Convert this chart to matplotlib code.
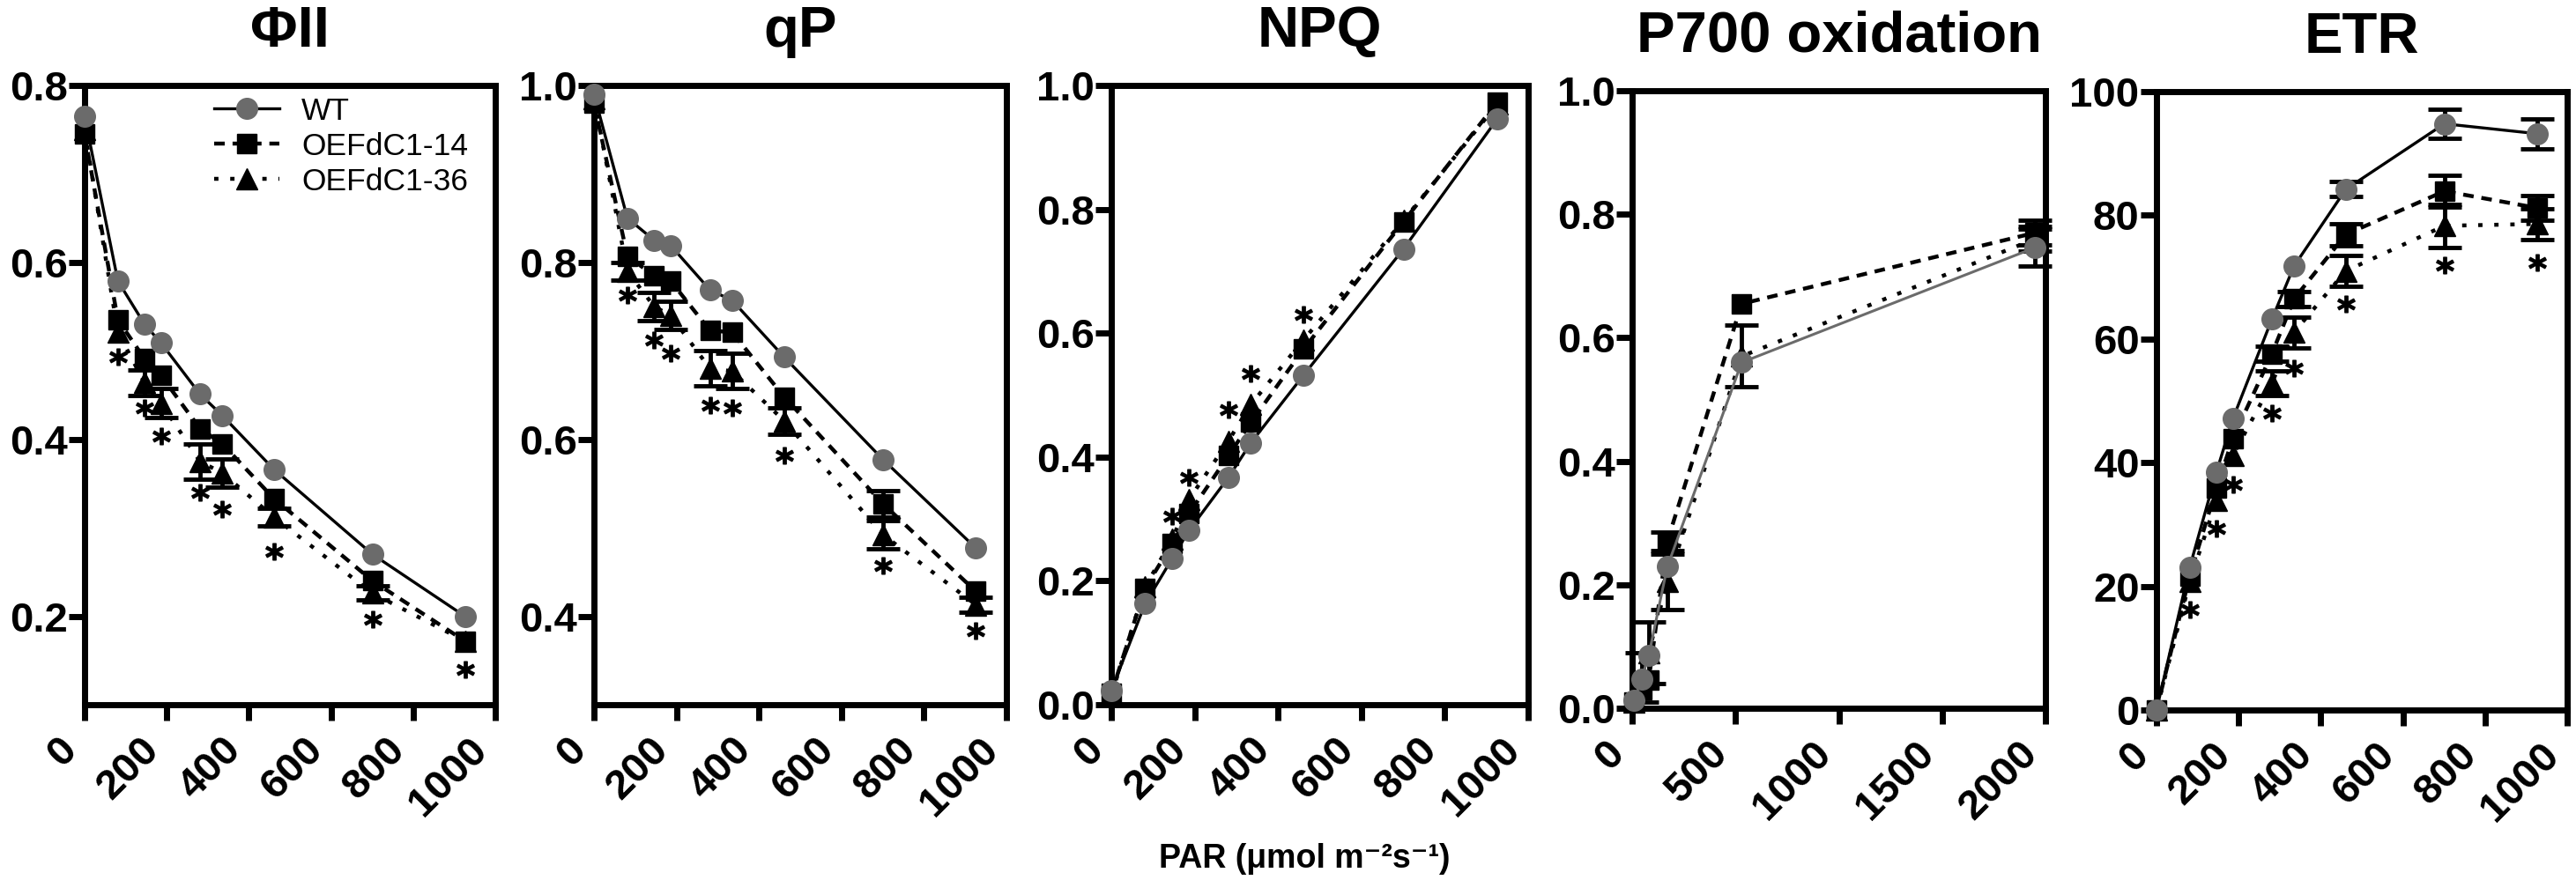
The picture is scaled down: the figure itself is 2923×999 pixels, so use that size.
import numpy as np
import matplotlib
matplotlib.use('Agg')
from matplotlib import pyplot as plt
from matplotlib.lines import Line2D

plt.rcParams['font.family'] = ['Liberation Sans', 'DejaVu Sans']
plt.rcParams['font.weight'] = 'bold'

nan = np.nan
W, H = 2923, 999

# light steps (umol m-2 s-1)
par = [0, 81, 146, 186, 281, 335, 461, 701, 926]
par_p700 = [10, 45, 80, 170, 530, 1950]

# PhiII
phi_wt = [0.765, 0.579, 0.530, 0.509, 0.451, 0.427, 0.366, 0.270, 0.200]
phi_14 = [0.745, 0.535, 0.491, 0.472, 0.412, 0.395, 0.333, 0.240, 0.172]
phi_36 = [0.750, 0.521, 0.464, 0.441, 0.375, 0.362, 0.312, 0.226, 0.172]
phi_wt_err = [0] * 9
phi_14_err = [0] * 9
phi_36_err = [0, 0, 0.014, 0.016, 0.02, 0.016, 0.01, 0.008, 0]
phi_star = [nan, 0.493, 0.436, 0.404, 0.340, 0.321, 0.273, 0.197, 0.140]

# qP
qp_wt = [0.990, 0.850, 0.825, 0.819, 0.769, 0.757, 0.693, 0.577, 0.477]
qp_14 = [0.980, 0.807, 0.785, 0.779, 0.723, 0.721, 0.648, 0.527, 0.428]
qp_36 = [0.985, 0.790, 0.750, 0.740, 0.680, 0.677, 0.621, 0.492, 0.413]
qp_wt_err = [0] * 9
qp_14_err = [0, 0, 0, 0, 0, 0, 0, 0.015, 0]
qp_36_err = [0, 0.010, 0.016, 0.016, 0.020, 0.020, 0.015, 0.016, 0.008]
qp_star = [nan, 0.763, 0.712, 0.697, 0.639, 0.636, 0.582, 0.457, 0.384]

# NPQ
npq_wt = [0.023, 0.163, 0.236, 0.281, 0.367, 0.423, 0.532, 0.736, 0.946]
npq_14 = [0.018, 0.188, 0.260, 0.308, 0.402, 0.456, 0.574, 0.780, 0.973]
npq_36 = [0.015, 0.190, 0.267, 0.331, 0.426, 0.485, 0.589, 0.782, 0.970]
npq_wt_err = [0] * 9
npq_14_err = [0] * 9
npq_36_err = [0] * 9
npq_star = [nan, nan, 0.304, 0.367, 0.476, 0.535, 0.630, nan, nan]

# P700 oxidation
p700_wt = [0.013, 0.047, 0.085, 0.229, 0.560, 0.746]
p700_14 = [0.010, 0.030, 0.045, 0.270, 0.655, 0.770]
p700_36 = [0.010, 0.050, 0.090, 0.205, 0.570, 0.760]
p700_wt_err = [0, 0, 0, 0, 0, 0.03]
p700_14_err = [0, 0, 0, 0.015, 0, 0.02]
p700_36_err = [0, 0.04, 0.05, 0.045, 0.05, 0.02]

# ETR
etr_wt = [0, 23.1, 38.5, 47.1, 63.2, 71.8, 84.2, 94.8, 93.2]
etr_14 = [0, 21.7, 35.9, 43.9, 57.6, 66.5, 76.9, 83.9, 81.2]
etr_36 = [0, 20.8, 33.9, 41.2, 52.9, 61.1, 71.0, 78.3, 78.6]
etr_wt_err = [0, 0, 0, 0, 0, 0, 1.2, 2.4, 2.4]
etr_14_err = [0, 0, 0, 0, 1.2, 1.2, 1.8, 2.6, 2.0]
etr_36_err = [0, 0, 0, 0, 2.0, 2.5, 2.5, 3.5, 2.5]
etr_star = [nan, 16.3, 29.4, 36.5, 48.0, 55.2, 65.6, 72.0, 72.4]

titles = ['\u03a6II', 'qP', 'NPQ', 'P700 oxidation', 'ETR']
labels = ['WT', 'OEFdC1-14', 'OEFdC1-36']

gray = '#6b6b6b'
styles = [
    dict(color='k', ls='-', lw=2.4, marker='o', ms=17, mfc=gray, mec=gray),
    dict(color='k', ls=(0, (2.7, 2.0)), lw=3.2, marker='s', ms=15.5, mfc='k', mec='k'),
    dict(color='k', ls=(0, (1.1, 3.0)), lw=3.2, marker='^', ms=17, mfc='k', mec='k'),
]

# pixel boxes (left, right, top, bottom)
boxes = [(96, 562, 97, 800), (674, 1142, 97, 800), (1261, 1734, 97, 800),
         (1852, 2321, 103, 804), (2447, 2913, 104, 806)]

panels = [
    (par, [phi_wt, phi_14, phi_36], [phi_wt_err, phi_14_err, phi_36_err], phi_star,
     (0.1, 0.8), [0.2, 0.4, 0.6, 0.8], '%.1f', (0, 1000), range(0, 1001, 200)),
    (par, [qp_wt, qp_14, qp_36], [qp_wt_err, qp_14_err, qp_36_err], qp_star,
     (0.3, 1.0), [0.4, 0.6, 0.8, 1.0], '%.1f', (0, 1000), range(0, 1001, 200)),
    (par, [npq_wt, npq_14, npq_36], [npq_wt_err, npq_14_err, npq_36_err], npq_star,
     (0.0, 1.0), [0.0, 0.2, 0.4, 0.6, 0.8, 1.0], '%.1f', (0, 1000), range(0, 1001, 200)),
    (par_p700, [p700_wt, p700_14, p700_36], [p700_wt_err, p700_14_err, p700_36_err], None,
     (0.0, 1.0), [0.0, 0.2, 0.4, 0.6, 0.8, 1.0], '%.1f', (0, 2000), range(0, 2001, 500)),
    (par, [etr_wt, etr_14, etr_36], [etr_wt_err, etr_14_err, etr_36_err], etr_star,
     (0, 100), [0, 20, 40, 60, 80, 100], '%d', (0, 1000), range(0, 1001, 200)),
]

fig = plt.figure(figsize=(W / 100, H / 100), dpi=100)

for i, (x, ys, errs, star, ylim, yticks, yfmt, xlim, xticks) in enumerate(panels):
    l, r, t, b = boxes[i]
    ax = fig.add_axes([l / W, 1 - b / H, (r - l) / W, (b - t) / H])
    # draw OE36 first, WT last (on top)
    for k in [2, 1, 0]:
        st = dict(styles[k])
        if i == 3 and k == 0:
            st['color'] = gray
            st['lw'] = 2.2
        xa, ya, ea = np.array(x), np.array(ys[k]), np.array(errs[k])
        keep = ea > 0
        if keep.any():
            ax.errorbar(xa[keep], ya[keep], yerr=ea[keep], fmt='none', ecolor='k',
                        elinewidth=3.5, capsize=14, capthick=3.5, zorder=2.5, clip_on=False)
        ax.plot(x, ys[k], zorder=3 + (2 - k), clip_on=False, **st)
    if star is not None:
        ax.plot(x, star, ls='none', marker='$*$', ms=14, color='k', zorder=6, clip_on=False)

    ax.set_xlim(*xlim)
    ax.set_ylim(*ylim)
    ax.set_xticks(list(xticks))
    ax.set_xticklabels([str(v) for v in xticks], rotation=45, ha='right', va='top')
    ax.set_yticks(yticks)
    ax.set_yticklabels([yfmt % v for v in yticks])
    for sp in ax.spines.values():
        sp.set_linewidth(5)
    ax.tick_params(axis='both', direction='out', length=13, width=5, labelsize=34)
    ax.tick_params(axis='y', pad=1)
    ax.tick_params(axis='x', pad=8)
    ax.set_title(titles[i], fontsize=47, fontweight='bold', pad=32)

    if i == 0:
        handles = [Line2D([], [], **styles[k]) for k in range(3)]
        ax.legend(handles, labels, loc='upper left', bbox_to_anchor=(0.315, 0.982),
                  frameon=False, borderpad=0, borderaxespad=0, handlelength=2.1,
                  handletextpad=0.7, labelspacing=0.2,
                  prop={'family': 'Liberation Sans', 'weight': 'normal', 'size': 25.5})

fig.text(1480 / W, 1 - 985 / H, 'PAR (\u03bcmol m\u207b\u00b2s\u207b\u00b9)', ha='center',
         va='baseline', fontsize=27, fontweight='bold')

fig.savefig('out.png', dpi=100)
